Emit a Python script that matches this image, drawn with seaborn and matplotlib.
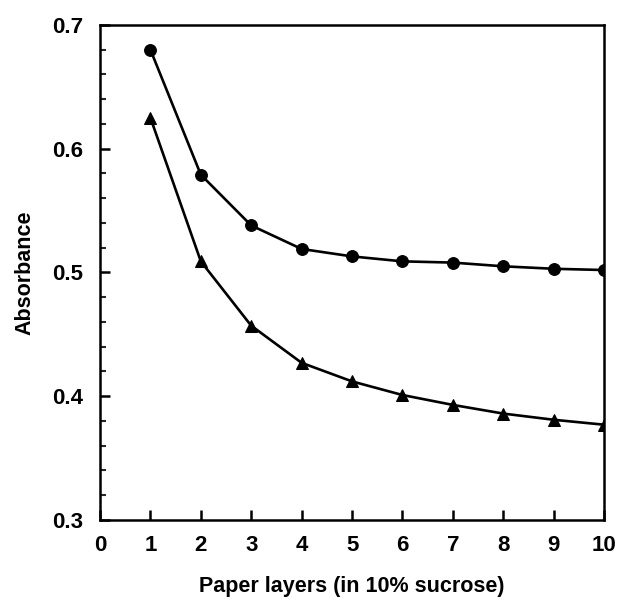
import pandas as pd
import matplotlib
matplotlib.use("Agg")
import matplotlib.pyplot as plt
import seaborn as sns
from matplotlib.ticker import MultipleLocator

layers = [1, 2, 3, 4, 5, 6, 7, 8, 9, 10]
circle_abs = [0.680, 0.579, 0.538, 0.519, 0.513, 0.509, 0.508, 0.505, 0.503, 0.502]
triangle_abs = [0.625, 0.509, 0.457, 0.427, 0.412, 0.401, 0.393, 0.386, 0.381, 0.377]
xticks = [0, 1, 2, 3, 4, 5, 6, 7, 8, 9, 10]
yticks = [0.3, 0.4, 0.5, 0.6, 0.7]


def build():
    df = pd.DataFrame({
        "layers": layers * 2,
        "absorbance": circle_abs + triangle_abs,
        "series": ["circle"] * len(layers) + ["triangle"] * len(layers),
    })
    return df


def plot(df):
    sns.set_style("ticks")
    plt.rcParams['font.family'] = ['Liberation Sans', 'DejaVu Sans']
    plt.rcParams['text.color'] = 'black'
    plt.rcParams['axes.labelcolor'] = 'black'
    fig = plt.figure(figsize=(6.19, 6.05), dpi=100)
    ax = fig.add_axes([0.1616, 0.1405, 0.8142, 0.8182])

    sns.lineplot(data=df, x="layers", y="absorbance", style="series",
                 markers={"circle": "o", "triangle": "^"},
                 dashes=False, color="black", linewidth=1.9,
                 markersize=8.5, markeredgecolor="black",
                 legend=False, ax=ax)

    ax.set_xlim(0, 10)
    ax.set_ylim(0.3, 0.7)
    ax.set_xticks(xticks)
    ax.set_yticks(yticks)
    ax.set_xticklabels([str(t) for t in xticks])
    ax.set_yticklabels([f"{t:.1f}" for t in yticks])
    ax.yaxis.set_minor_locator(MultipleLocator(0.02))

    for s in ax.spines.values():
        s.set_linewidth(1.8)
        s.set_color("black")
    ax.tick_params(which="major", direction="in", length=7, width=1.8,
                   labelsize=16, colors="black")
    ax.tick_params(axis="x", which="major", pad=11)
    ax.tick_params(axis="y", which="major", pad=12)
    ax.tick_params(which="minor", direction="in", length=4, width=1.5)
    ax.tick_params(axis="x", which="minor", length=0)
    for lab in ax.get_xticklabels() + ax.get_yticklabels():
        lab.set_fontweight("bold")

    ax.set_xlabel("Paper layers (in 10% sucrose)", fontsize=15.5,
                  fontweight="bold", labelpad=14, color="black")
    ax.set_ylabel("Absorbance", fontsize=15.5, fontweight="bold",
                  labelpad=12, color="black")

    fig.savefig("out.png", dpi=100)


def main():
    df = build()
    plot(df)


if __name__ == "__main__":
    main()
